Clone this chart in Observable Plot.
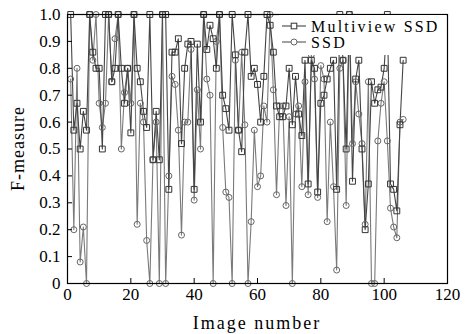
<!DOCTYPE html>
<html><head><meta charset="utf-8">
<script src="https://cdn.jsdelivr.net/npm/d3@7"></script>
<script src="https://cdn.jsdelivr.net/npm/@observablehq/plot@0.6"></script>
<style>
body{margin:0;background:#fff}
svg{display:block}
</style>
</head><body><div id="chart"></div>
<script>
const seriesNames = ["Multiview SSD", "SSD"];
const multiviewSSD = [
1.0,0.57,0.67,0.5,0.64,0.57,1.0,0.86,0.8,0.8,
0.5,1.0,1.0,0.75,0.8,1.0,0.8,0.67,0.8,0.56,
1.0,0.8,0.75,0.64,0.58,1.0,0.46,0.64,0.46,1.0,
1.0,0.35,0.86,0.86,0.91,0.52,0.8,0.89,0.9,0.35,
0.89,0.6,1.0,0.87,0.96,0.91,0.8,1.0,0.7,0.65,
0.57,1.0,0.85,0.57,0.49,0.86,1.0,0.77,0.8,0.74,
0.6,0.77,1.0,0.96,0.86,0.66,0.62,0.62,0.66,0.8,
0.59,0.77,0.63,0.55,0.83,0.37,0.83,0.8,0.34,0.67,
0.7,0.76,0.8,0.83,0.35,1.0,0.83,0.5,1.0,0.38,
0.76,0.83,0.5,0.2,0.37,0.75,0.67,0.72,0.73,0.8,
1.0,0.37,0.35,0.27,0.59,0.83];
const ssd = [
0.76,0.2,0.8,0.08,0.21,0,1.0,0.83,1.0,0.67,
0.58,0.67,1.0,0.75,0.91,1.0,0.5,0.71,0.8,0.67,
1.0,0.22,0.67,0.6,0.16,0,0.46,0.6,0,1.0,
0,0.4,0.77,0.74,0.57,0.18,0.6,0.6,0.87,0.31,
0.72,0.5,1.0,0.76,0.7,0,0.9,1.0,0.58,0.34,
0.32,0,0.83,0.57,0.86,0.59,0,0.23,0.57,0.36,
0.4,0.66,0.6,1.0,0.72,0.33,0.66,0.66,0.29,0.62,
0,0.63,0.66,0.36,0.75,0.33,0.85,0.76,0.32,0.81,
0.76,0.23,0.6,0.36,0.05,0.8,0.83,0.29,1.0,0.52,
0.75,0.63,0.52,0.22,0.75,0,0,0.53,0.67,0.75,
0.53,0.28,0.21,0.17,0.6,0.61];
const xTicks = [0,20,40,60,80,100,120];
const yTicks = [0,0.1,0.2,0.3,0.4,0.5,0.6,0.7,0.8,0.9,1.0];
const yTickLabels = ["0","0.1","0.2","0.3","0.4","0.5","0.6","0.7","0.8","0.9","1.0"];
const xLabel = "Image number";
const yLabel = "F-measure";

const rowsA = multiviewSSD.map((v,i)=>({image:i+1, value:v, series:seriesNames[0]}));
const rowsB = ssd.map((v,i)=>({image:i+1, value:v, series:seriesNames[1]}));

const W = 465, H = 334, mL = 67, mR = 18, mT = 14, mB = 51;
const SERIF = "Liberation Serif, DejaVu Serif, serif";

const chart = Plot.plot({
  width: W, height: H,
  marginLeft: mL, marginRight: mR, marginTop: mT, marginBottom: mB,
  style: {fontFamily: SERIF, background: "#fff", color: "#000"},
  x: {domain: [0,120]},
  y: {domain: [0,1]},
  marks: [
    Plot.line(rowsB, {x:"image", y:"value", stroke:"#7a7a7a", strokeWidth:1.1}),
    Plot.line(rowsA, {x:"image", y:"value", stroke:"#444", strokeWidth:1.1}),
    Plot.dot(rowsB, {x:"image", y:"value", symbol:"circle", r:3, stroke:"#666", strokeWidth:1, fill:"none"}),
    Plot.dot(rowsA, {x:"image", y:"value", symbol:"square", r:3.3, stroke:"#333", strokeWidth:1, fill:"none"}),
    Plot.frame({stroke:"#000", strokeWidth:1.2}),
    Plot.axisY(yTicks, {tickSize:-5, tickPadding:12, fontSize:17, label:null,
      tickFormat: d => yTickLabels[yTicks.indexOf(d)]}),
    Plot.axisX(xTicks, {tickSize:-5, tickPadding:9, fontSize:17, label:null}),
  ]
});

const svg = d3.select(chart);
// legend
const lg = svg.append("g").attr("text-anchor", "start");
lg.append("rect").attr("x", 279).attr("y", 15).attr("width", 167).attr("height", 40).attr("fill", "#fff");
const rows = [{y:26, name:seriesNames[0], sym:"square", c:"#333", lc:"#444"},{y:42, name:seriesNames[1], sym:"circle", c:"#666", lc:"#555"}];
rows.forEach(r => {
  lg.append("line").attr("x1",282).attr("x2",306).attr("y1",r.y).attr("y2",r.y).attr("stroke",r.lc).attr("stroke-width",1.1);
  if (r.sym === "square") {
    lg.append("rect").attr("x",294-2.8).attr("y",r.y-2.8).attr("width",5.6).attr("height",5.6).attr("fill","#fff").attr("stroke",r.c);
  } else {
    lg.append("circle").attr("cx",294).attr("cy",r.y).attr("r",3).attr("fill","#fff").attr("stroke",r.c);
  }
  lg.append("text").attr("x",311).attr("y",r.y+5.5).attr("font-size",16).attr("letter-spacing","2.2px")
    .attr("text-anchor","start").attr("fill","#000").text(r.name);
});
// axis labels
svg.append("text").attr("x", (mL + W - mR)/2).attr("y", 329).attr("text-anchor","middle")
  .attr("font-size",18).attr("letter-spacing","2px").attr("fill","#000").text(xLabel);
svg.append("text").attr("transform", `translate(24,${(mT + H - mB)/2}) rotate(-90)`).attr("text-anchor","middle")
  .attr("font-size",18).attr("letter-spacing","1px").attr("fill","#000").text(yLabel);

svg.selectAll("text").attr("font-family", SERIF).style("font-family", SERIF);

document.getElementById("chart").appendChild(chart);
</script>
</body></html>
